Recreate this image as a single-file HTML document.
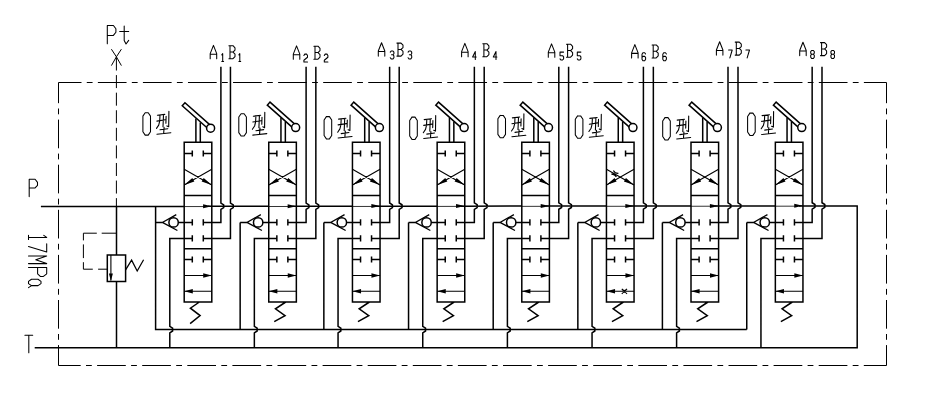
<!DOCTYPE html>
<html><head><meta charset="utf-8"><title>Hydraulic schematic</title>
<style>
html,body{margin:0;padding:0;background:#fff;font-family:"Liberation Sans",sans-serif;}
svg{display:block}
.m{stroke:#000;stroke-width:1.5;fill:none;stroke-linecap:butt;stroke-linejoin:miter}
.w{fill:#fff}
.n{stroke:#000;stroke-width:1.25;fill:none}
.p{stroke:#000;stroke-width:0.8;fill:none}
.t{stroke:#000;stroke-width:1.1;fill:none}
.d{stroke:#000;stroke-width:1;fill:none}
.x{stroke:#000;stroke-width:1.05;fill:none;stroke-linejoin:round;stroke-linecap:round}
.y{stroke:#000;stroke-width:1.1;fill:none;stroke-linejoin:round;stroke-linecap:round}
</style></head><body>
<svg width="926" height="402" viewBox="0 0 926 402">
<rect width="926" height="402" fill="#fff"/>
<path class="m" d="M857.2 205.9 L857.2 347.85 L34.7 347.85M40.9 206.4 L184.2 206.31M207.8 206.3 L211.8 206.3M211.8 206.3 L268.75 206.26M292.35 206.24 L296.35 206.24M296.35 206.24 L352.45 206.21M376.05 206.19 L380.05 206.19M380.05 206.19 L437.15 206.16M460.75 206.14 L464.75 206.14M464.75 206.14 L521.8 206.11M545.4 206.09 L549.4 206.09M549.4 206.09 L606.45 206.05M630.05 206.04 L634.05 206.04M634.05 206.04 L691 206M714.6 205.98 L718.6 205.98M718.6 205.98 L775.35 205.95M798.95 205.93 L802.95 205.93M802.95 205.93 L857.9 205.9M116.5 206.35 L116.5 254.9M116.5 281.4 L116.5 347.85M155.6 206.33 L155.6 329.6 L746.75 329.6M184.2 142.3H211.8V302H184.2ZM184.2 195.6 L211.8 195.6M184.2 248.8 L211.8 248.8M195.9 118.4 L195.9 142.3M200.3 122.4 L200.3 142.3M184.2 153.4 L192.3 153.4M192.3 150.4 L192.3 156.4M203.3 153.4 L211.8 153.4M203.3 150.4 L203.3 156.4M184.2 259.4 L192.3 259.4M192.3 256.4 L192.3 262.4M203.3 259.4 L211.8 259.4M203.3 256.4 L203.3 262.4M155.6 222.4 L162.4 222.4M178.2 222.4 L192.3 222.4M192.3 219.3 L192.3 225.5M203.3 219.3 L203.3 225.5M220.9 66.7 L220.9 203.09 L223.7 204.89 L223.7 207.69 L220.9 209.49 L220.9 222.4 L203.3 222.4M192.3 235.3 L192.3 241.5M203.3 235.3 L203.3 241.5M230.45 66.7 L230.45 203.08 L233.25 204.88 L233.25 207.68 L230.45 209.48 L230.45 238.4 L203.3 238.4M192.3 238.4 L169.8 238.4 L169.8 326.4 L172.6 328.2 L172.6 331 L169.8 332.8 L169.8 347.85M199.4 302 L190.4 308.2 L200.1 315.6 L190.1 323.6M268.75 142.3H296.35V302H268.75ZM268.75 195.6 L296.35 195.6M268.75 248.8 L296.35 248.8M280.95 117.8 L280.95 142.3M285.35 121.8 L285.35 142.3M268.75 153.4 L276.85 153.4M276.85 150.4 L276.85 156.4M287.85 153.4 L296.35 153.4M287.85 150.4 L287.85 156.4M268.75 259.4 L276.85 259.4M276.85 256.4 L276.85 262.4M287.85 259.4 L296.35 259.4M287.85 256.4 L287.85 262.4M240.15 329.6 L240.15 222.4M240.15 222.4 L246.95 222.4M262.75 222.4 L276.85 222.4M276.85 219.3 L276.85 225.5M287.85 219.3 L287.85 225.5M306.1 66.7 L306.1 203.04 L308.9 204.84 L308.9 207.64 L306.1 209.44 L306.1 222.4 L287.85 222.4M276.85 235.3 L276.85 241.5M287.85 235.3 L287.85 241.5M315.85 66.7 L315.85 203.03 L318.65 204.83 L318.65 207.63 L315.85 209.43 L315.85 238.4 L287.85 238.4M276.85 238.4 L254.35 238.4 L254.35 326.4 L257.15 328.2 L257.15 331 L254.35 332.8 L254.35 347.85M285.75 302 L275.45 308.8 L285.05 315.7 L274.25 321.6M352.45 142.3H380.05V302H352.45ZM352.45 195.6 L380.05 195.6M352.45 248.8 L380.05 248.8M364.7 117.8 L364.7 142.3M369.1 121.8 L369.1 142.3M352.45 153.4 L360.55 153.4M360.55 150.4 L360.55 156.4M371.55 153.4 L380.05 153.4M371.55 150.4 L371.55 156.4M352.45 259.4 L360.55 259.4M360.55 256.4 L360.55 262.4M371.55 259.4 L380.05 259.4M371.55 256.4 L371.55 262.4M323.85 329.6 L323.85 222.4M323.85 222.4 L330.65 222.4M346.45 222.4 L360.55 222.4M360.55 219.3 L360.55 225.5M371.55 219.3 L371.55 225.5M389.65 66.7 L389.65 202.99 L392.45 204.79 L392.45 207.59 L389.65 209.39 L389.65 222.4 L371.55 222.4M360.55 235.3 L360.55 241.5M371.55 235.3 L371.55 241.5M399.2 66.7 L399.2 202.98 L402 204.78 L402 207.58 L399.2 209.38 L399.2 238.4 L371.55 238.4M360.55 238.4 L338.05 238.4 L338.05 326.4 L340.85 328.2 L340.85 331 L338.05 332.8 L338.05 347.85M369.45 302 L359.15 308.8 L368.75 315.7 L357.95 321.6M437.15 142.3H464.75V302H437.15ZM437.15 195.6 L464.75 195.6M437.15 248.8 L464.75 248.8M449.45 117.8 L449.45 142.3M453.85 121.8 L453.85 142.3M437.15 153.4 L445.25 153.4M445.25 150.4 L445.25 156.4M456.25 153.4 L464.75 153.4M456.25 150.4 L456.25 156.4M437.15 259.4 L445.25 259.4M445.25 256.4 L445.25 262.4M456.25 259.4 L464.75 259.4M456.25 256.4 L456.25 262.4M408.55 329.6 L408.55 222.4M408.55 222.4 L415.35 222.4M431.15 222.4 L445.25 222.4M445.25 219.3 L445.25 225.5M456.25 219.3 L456.25 225.5M474.35 66.7 L474.35 202.93 L477.15 204.73 L477.15 207.53 L474.35 209.33 L474.35 222.4 L456.25 222.4M445.25 235.3 L445.25 241.5M456.25 235.3 L456.25 241.5M484.2 66.7 L484.2 202.93 L487 204.73 L487 207.53 L484.2 209.33 L484.2 238.4 L456.25 238.4M445.25 238.4 L422.75 238.4 L422.75 326.4 L425.55 328.2 L425.55 331 L422.75 332.8 L422.75 347.85M454.15 302 L443.85 308.8 L453.45 315.7 L442.65 321.6M521.8 142.3H549.4V302H521.8ZM521.8 195.6 L549.4 195.6M521.8 248.8 L549.4 248.8M533.8 117.8 L533.8 142.3M538.2 121.8 L538.2 142.3M521.8 153.4 L529.9 153.4M529.9 150.4 L529.9 156.4M540.9 153.4 L549.4 153.4M540.9 150.4 L540.9 156.4M521.8 259.4 L529.9 259.4M529.9 256.4 L529.9 262.4M540.9 259.4 L549.4 259.4M540.9 256.4 L540.9 262.4M493.2 329.6 L493.2 222.4M493.2 222.4 L500 222.4M515.8 222.4 L529.9 222.4M529.9 219.3 L529.9 225.5M540.9 219.3 L540.9 225.5M558.8 66.7 L558.8 202.88 L561.6 204.68 L561.6 207.48 L558.8 209.28 L558.8 222.4 L540.9 222.4M529.9 235.3 L529.9 241.5M540.9 235.3 L540.9 241.5M568.6 66.7 L568.6 202.88 L571.4 204.68 L571.4 207.48 L568.6 209.28 L568.6 238.4 L540.9 238.4M529.9 238.4 L507.4 238.4 L507.4 326.4 L510.2 328.2 L510.2 331 L507.4 332.8 L507.4 347.85M538.8 302 L528.5 308.8 L538.1 315.7 L527.3 321.6M606.45 142.3H634.05V302H606.45ZM606.45 195.6 L634.05 195.6M606.45 248.8 L634.05 248.8M618.25 117.8 L618.25 142.3M622.65 121.8 L622.65 142.3M606.45 153.4 L614.55 153.4M614.55 150.4 L614.55 156.4M625.55 153.4 L634.05 153.4M625.55 150.4 L625.55 156.4M606.45 259.4 L614.55 259.4M614.55 256.4 L614.55 262.4M625.55 259.4 L634.05 259.4M625.55 256.4 L625.55 262.4M577.85 329.6 L577.85 222.4M577.85 222.4 L584.65 222.4M600.45 222.4 L614.55 222.4M614.55 219.3 L614.55 225.5M625.55 219.3 L625.55 225.5M643.4 66.7 L643.4 202.83 L646.2 204.63 L646.2 207.43 L643.4 209.23 L643.4 222.4 L625.55 222.4M614.55 235.3 L614.55 241.5M625.55 235.3 L625.55 241.5M653.35 66.7 L653.35 202.82 L656.15 204.62 L656.15 207.42 L653.35 209.22 L653.35 238.4 L625.55 238.4M614.55 238.4 L592.05 238.4 L592.05 326.4 L594.85 328.2 L594.85 331 L592.05 332.8 L592.05 347.85M623.45 302 L613.15 308.8 L622.75 315.7 L611.95 321.6M691 142.3H718.6V302H691ZM691 195.6 L718.6 195.6M691 248.8 L718.6 248.8M702.7 117.8 L702.7 142.3M707.1 121.8 L707.1 142.3M691 153.4 L699.1 153.4M699.1 150.4 L699.1 156.4M710.1 153.4 L718.6 153.4M710.1 150.4 L710.1 156.4M691 259.4 L699.1 259.4M699.1 256.4 L699.1 262.4M710.1 259.4 L718.6 259.4M710.1 256.4 L710.1 262.4M662.4 329.6 L662.4 222.4M662.4 222.4 L669.2 222.4M685 222.4 L699.1 222.4M699.1 219.3 L699.1 225.5M710.1 219.3 L710.1 225.5M728 66.7 L728 202.78 L730.8 204.58 L730.8 207.38 L728 209.18 L728 222.4 L710.1 222.4M699.1 235.3 L699.1 241.5M710.1 235.3 L710.1 241.5M738 66.7 L738 202.77 L740.8 204.57 L740.8 207.37 L738 209.17 L738 238.4 L710.1 238.4M699.1 238.4 L676.6 238.4 L676.6 326.4 L679.4 328.2 L679.4 331 L676.6 332.8 L676.6 347.85M708 302 L697.7 308.8 L707.3 315.7 L696.5 321.6M775.35 142.3H802.95V302H775.35ZM775.35 195.6 L802.95 195.6M775.35 248.8 L802.95 248.8M787.05 117.8 L787.05 142.3M791.45 121.8 L791.45 142.3M775.35 153.4 L783.45 153.4M783.45 150.4 L783.45 156.4M794.45 153.4 L802.95 153.4M794.45 150.4 L794.45 156.4M775.35 259.4 L783.45 259.4M783.45 256.4 L783.45 262.4M794.45 259.4 L802.95 259.4M794.45 256.4 L794.45 262.4M746.75 329.6 L746.75 222.4M746.75 222.4 L753.55 222.4M769.35 222.4 L783.45 222.4M783.45 219.3 L783.45 225.5M794.45 219.3 L794.45 225.5M812.15 66.7 L812.15 202.73 L814.95 204.53 L814.95 207.33 L812.15 209.13 L812.15 222.4 L794.45 222.4M783.45 235.3 L783.45 241.5M794.45 235.3 L794.45 241.5M822 66.7 L822 202.72 L824.8 204.52 L824.8 207.32 L822 209.12 L822 238.4 L794.45 238.4M783.45 238.4 L760.95 238.4 L760.95 347.85M792.35 302 L782.05 308.8 L791.65 315.7 L780.85 321.6M107.3 254.9H125.6V281.4H107.3Z"/>
<path class="t" d="M184.2 169.2 L211.8 184.9M211.8 169.2 L184.2 184.9M184.2 275.5 L211.8 275.5M184.2 291.3 L211.8 291.3M268.75 169.2 L296.35 184.9M296.35 169.2 L268.75 184.9M268.75 275.5 L296.35 275.5M268.75 291.3 L296.35 291.3M352.45 169.2 L380.05 184.9M380.05 169.2 L352.45 184.9M352.45 275.5 L380.05 275.5M352.45 291.3 L380.05 291.3M437.15 169.2 L464.75 184.9M464.75 169.2 L437.15 184.9M437.15 275.5 L464.75 275.5M437.15 291.3 L464.75 291.3M521.8 169.2 L549.4 184.9M549.4 169.2 L521.8 184.9M521.8 275.5 L549.4 275.5M521.8 291.3 L549.4 291.3M606.45 169.2 L634.05 184.9M634.05 169.2 L606.45 184.9M606.45 275.5 L634.05 275.5M606.45 291.3 L634.05 291.3M691 169.2 L718.6 184.9M718.6 169.2 L691 184.9M691 275.5 L718.6 275.5M691 291.3 L718.6 291.3M775.35 169.2 L802.95 184.9M802.95 169.2 L775.35 184.9M775.35 275.5 L802.95 275.5M775.35 291.3 L802.95 291.3M611.34 174.09Q614.8 173.87 616.38 176.96M613.42 170.44Q615 173.53 618.46 173.31M621.8 288.8Q624.4 292.2 627 288.8M621.8 293.9Q624.4 290.5 627 293.9M110.9 254.9 L110.9 280.6"/>
<path class="n" d="M176.3 214.6 L162.4 222.4 L177.4 230.5M260.85 214.6 L246.95 222.4 L261.95 230.5M344.55 214.6 L330.65 222.4 L345.65 230.5M429.25 214.6 L415.35 222.4 L430.35 230.5M513.9 214.6 L500 222.4 L515 230.5M598.55 214.6 L584.65 222.4 L599.65 230.5M683.1 214.6 L669.2 222.4 L684.2 230.5M767.45 214.6 L753.55 222.4 L768.55 230.5M125.6 269.8 L131.6 260.1 L137.2 271 L143.6 259.8"/>
<path class="p" d="M184.2 206.56 L204.8 206.55M268.75 206.51 L289.35 206.49M352.45 206.46 L373.05 206.44M437.15 206.41 L457.75 206.39M521.8 206.36 L542.4 206.34M606.45 206.3 L627.05 206.29M691 206.25 L711.6 206.23M775.35 206.2 L795.95 206.18"/>
<path fill="#000" d="M184.2 184.9 L192.29 177.88 L194.37 181.53ZM211.8 184.9 L201.63 181.53 L203.71 177.88ZM211.8 206.2 L203.1 208.2 L203.1 204.2ZM211.8 275.5 L203.2 277.8 L203.2 273.2ZM184.2 291.3 L192.8 289 L192.8 293.6ZM268.75 184.9 L276.84 177.88 L278.92 181.53ZM296.35 184.9 L286.18 181.53 L288.26 177.88ZM296.35 206.14 L287.65 208.14 L287.65 204.14ZM296.35 275.5 L287.75 277.8 L287.75 273.2ZM268.75 291.3 L277.35 289 L277.35 293.6ZM352.45 184.9 L360.54 177.88 L362.62 181.53ZM380.05 184.9 L369.88 181.53 L371.96 177.88ZM380.05 206.09 L371.35 208.09 L371.35 204.09ZM380.05 275.5 L371.45 277.8 L371.45 273.2ZM352.45 291.3 L361.05 289 L361.05 293.6ZM437.15 184.9 L445.24 177.88 L447.32 181.53ZM464.75 184.9 L454.58 181.53 L456.66 177.88ZM464.75 206.04 L456.05 208.04 L456.05 204.04ZM464.75 275.5 L456.15 277.8 L456.15 273.2ZM437.15 291.3 L445.75 289 L445.75 293.6ZM521.8 184.9 L529.89 177.88 L531.97 181.53ZM549.4 184.9 L539.23 181.53 L541.31 177.88ZM549.4 205.99 L540.7 207.99 L540.7 203.99ZM549.4 275.5 L540.8 277.8 L540.8 273.2ZM521.8 291.3 L530.4 289 L530.4 293.6ZM606.45 184.9 L614.54 177.88 L616.62 181.53ZM634.05 184.9 L623.88 181.53 L625.96 177.88ZM634.05 205.94 L625.35 207.94 L625.35 203.94ZM634.05 275.5 L625.45 277.8 L625.45 273.2ZM606.45 291.3 L615.05 289 L615.05 293.6ZM691 184.9 L699.09 177.88 L701.17 181.53ZM718.6 184.9 L708.43 181.53 L710.51 177.88ZM718.6 205.88 L709.9 207.88 L709.9 203.88ZM718.6 275.5 L710 277.8 L710 273.2ZM691 291.3 L699.6 289 L699.6 293.6ZM775.35 184.9 L783.44 177.88 L785.52 181.53ZM802.95 184.9 L792.78 181.53 L794.86 177.88ZM802.95 205.83 L794.25 207.83 L794.25 203.83ZM802.95 275.5 L794.35 277.8 L794.35 273.2ZM775.35 291.3 L783.95 289 L783.95 293.6ZM110.9 281 L108.9 273.4 L112.9 273.4Z"/>
<path class="m w" d="M182.24 105.78 L184.96 102.72 L211.96 126.67 L209.24 129.73 Z"/>
<circle class="m w" cx="210.6" cy="128.2" r="4"/>
<circle class="m" fill="none" cx="173.6" cy="222.4" r="4.7"/>
<path class="m w" d="M267.29 105.18 L270.01 102.12 L297.01 126.07 L294.29 129.13 Z"/>
<circle class="m w" cx="295.65" cy="127.6" r="4"/>
<circle class="m" fill="none" cx="258.15" cy="222.4" r="4.7"/>
<path class="m w" d="M351.04 105.18 L353.76 102.12 L380.76 126.07 L378.04 129.13 Z"/>
<circle class="m w" cx="379.4" cy="127.6" r="4"/>
<circle class="m" fill="none" cx="341.85" cy="222.4" r="4.7"/>
<path class="m w" d="M435.79 105.18 L438.51 102.12 L465.51 126.07 L462.79 129.13 Z"/>
<circle class="m w" cx="464.15" cy="127.6" r="4"/>
<circle class="m" fill="none" cx="426.55" cy="222.4" r="4.7"/>
<path class="m w" d="M520.14 105.18 L522.86 102.12 L549.86 126.07 L547.14 129.13 Z"/>
<circle class="m w" cx="548.5" cy="127.6" r="4"/>
<circle class="m" fill="none" cx="511.2" cy="222.4" r="4.7"/>
<path class="m w" d="M604.59 105.18 L607.31 102.12 L634.31 126.07 L631.59 129.13 Z"/>
<circle class="m w" cx="632.95" cy="127.6" r="4"/>
<circle class="m" fill="none" cx="595.85" cy="222.4" r="4.7"/>
<path class="m w" d="M689.04 105.18 L691.76 102.12 L718.76 126.07 L716.04 129.13 Z"/>
<circle class="m w" cx="717.4" cy="127.6" r="4"/>
<circle class="m" fill="none" cx="680.4" cy="222.4" r="4.7"/>
<path class="m w" d="M773.39 105.18 L776.11 102.12 L803.11 126.07 L800.39 129.13 Z"/>
<circle class="m w" cx="801.75" cy="127.6" r="4"/>
<circle class="m" fill="none" cx="764.75" cy="222.4" r="4.7"/>
<path class="d" stroke-dasharray="28.7 5.28 5.8 5.28" stroke-dashoffset="5.7" d="M58.5 82.5H886.5"/><path class="d" stroke-dasharray="28.7 5.3 5.8 5.3" stroke-dashoffset="8" d="M58.5 82.5V365.5"/><path class="d" stroke-dasharray="28.7 5.3 5.8 5.3" stroke-dashoffset="6.5" d="M58.5 365.5H886.5"/><path class="d" stroke-dasharray="28.7 5.3 5.8 5.3" stroke-dashoffset="8" d="M886.5 82.5V365.5"/><path class="d" stroke-dasharray="13 4.58" d="M116.4 57.5V206.3"/><path class="d" d="M111.4 49.2L116.4 56.8L121.4 49.2M111.4 65.6L116.4 56.8L121.4 65.6"/><path class="d" d="M116.5 233.2H101.7M96.8 233.2H83.4V240.4M83.4 244.4V258.1M83.4 262.2V269.2H92.8M98.1 269.2H107.3"/>
<path class="x" d="M29.2 196.6 L29.2 179.2 L35.09 179.2 L37.5 182.33 L37.5 185.29 L35.09 187.9 L29.2 187.9M24.9 335.3 L32.7 335.3M28.8 335.3 L28.8 352.8M107.3 43.7 L107.3 25.5 L113.41 25.5 L115.9 28.78 L115.9 32.23 L113.41 35.42 L107.3 35.42M124.2 26 L124.2 40.4 L126 44 L128.7 40.4M119.7 31.4 L128.7 31.4M43.79 235.35 L46.7 237.4 L28.5 237.4M28.5 235.35 L28.5 239.45M46.7 243.7 L46.7 252 L28.5 246.6M28.5 255.9 L46.7 255.9 L35.78 259.75 L46.7 263.6 L28.5 263.6M28.5 267.4 L46.7 267.4 L46.7 273.79 L43.42 276.4 L40.33 276.4 L37.6 273.79 L37.6 267.4M31.5 279.3H38L41 281.4V283.6L38 285.6H31.5L28.5 283.6V281.4ZM31.6 285.6L28.5 287.6"/>
<path class="x" d="M210.2 58.7 L210.2 53.65 L213.45 45.4 L216.7 53.65 L216.7 58.7M210.2 54.18 L216.7 54.18M221.8 54.86 L222.7 53.6 L222.7 61.5M221.8 61.5 L223.6 61.5M228.9 45.7 L233 45.7 L235 47.78 L235 50.12 L233 52.07 L230 52.07M230 45.7 L230 58.7M233 52.07 L235 54.02 L235 56.62 L233 58.7 L228.9 58.7M238.9 54.86 L239.8 53.6 L239.8 61.5M238.9 61.5 L240.7 61.5M293.3 59.2 L293.3 54.15 L296.55 45.9 L299.8 54.15 L299.8 59.2M293.3 54.68 L299.8 54.68M303.9 55.52 L304.8 54.1 L306.6 54.1 L307.5 55.52 L307.5 57.26 L303.9 60.26 L303.9 62 L307.5 62M313.9 46.2 L318 46.2 L320 48.28 L320 50.62 L318 52.57 L315 52.57M315 46.2 L315 59.2M318 52.57 L320 54.52 L320 57.12 L318 59.2 L313.9 59.2M324.3 55.52 L325.2 54.1 L327 54.1 L327.9 55.52 L327.9 57.26 L324.3 60.26 L324.3 62 L327.9 62M378.3 56.1 L378.3 51.05 L381.55 42.8 L384.8 51.05 L384.8 56.1M378.3 51.58 L384.8 51.58M390.3 52.19 L391.2 51 L393 51 L393.9 52.19 L393.9 53.77 L393 54.79 L391.56 54.79M393 54.79 L393.9 55.9 L393.9 57.72 L393 58.9 L391.2 58.9 L390.3 57.72M396.9 43.1 L401 43.1 L403 45.18 L403 47.52 L401 49.47 L398 49.47M398 43.1 L398 56.1M401 49.47 L403 51.42 L403 54.02 L401 56.1 L396.9 56.1M408.1 52.19 L409 51 L410.8 51 L411.7 52.19 L411.7 53.77 L410.8 54.79 L409.36 54.79M410.8 54.79 L411.7 55.9 L411.7 57.72 L410.8 58.9 L409 58.9 L408.1 57.72M461.6 56.7 L461.6 51.65 L464.85 43.4 L468.1 51.65 L468.1 56.7M461.6 52.18 L468.1 52.18M475.3 59.5 L475.3 51.6 L472.6 56.97 L476.2 56.97M482.8 43.7 L486.9 43.7 L488.9 45.78 L488.9 48.12 L486.9 50.07 L483.9 50.07M483.9 43.7 L483.9 56.7M486.9 50.07 L488.9 52.02 L488.9 54.62 L486.9 56.7 L482.8 56.7M496 59.5 L496 51.6 L493.3 56.97 L496.9 56.97M548.3 57.2 L548.3 52.15 L551.55 43.9 L554.8 52.15 L554.8 57.2M548.3 52.68 L554.8 52.68M563.6 52.1 L560 52.1 L560 55.65 L562.59 55.65 L563.6 56.84 L563.6 58.81 L562.59 60 L560.9 60 L560 58.81M566.5 44.2 L570.6 44.2 L572.6 46.28 L572.6 48.62 L570.6 50.57 L567.6 50.57M567.6 44.2 L567.6 57.2M570.6 50.57 L572.6 52.52 L572.6 55.12 L570.6 57.2 L566.5 57.2M580.9 52.1 L577.3 52.1 L577.3 55.65 L579.89 55.65 L580.9 56.84 L580.9 58.81 L579.89 60 L578.2 60 L577.3 58.81M631.6 57.9 L631.6 52.85 L634.85 44.6 L638.1 52.85 L638.1 57.9M631.6 53.38 L638.1 53.38M645.6 53.98 L644.7 52.8 L642.9 52.8 L642 54.22 L642 59.28 L642.9 60.7 L644.7 60.7 L645.6 59.28 L645.6 57.54 L644.7 56.35 L642.9 56.35 L642 57.54M652.1 44.9 L656.2 44.9 L658.2 46.98 L658.2 49.32 L656.2 51.27 L653.2 51.27M653.2 44.9 L653.2 57.9M656.2 51.27 L658.2 53.22 L658.2 55.82 L656.2 57.9 L652.1 57.9M666.4 53.98 L665.5 52.8 L663.7 52.8 L662.8 54.22 L662.8 59.28 L663.7 60.7 L665.5 60.7 L666.4 59.28 L666.4 57.54 L665.5 56.35 L663.7 56.35 L662.8 57.54M716.4 55.1 L716.4 50.05 L719.65 41.8 L722.9 50.05 L722.9 55.1M716.4 50.58 L722.9 50.58M728.6 50 L732.2 50 L729.86 57.9M735.2 42.1 L739.3 42.1 L741.3 44.18 L741.3 46.52 L739.3 48.47 L736.3 48.47M736.3 42.1 L736.3 55.1M739.3 48.47 L741.3 50.42 L741.3 53.02 L739.3 55.1 L735.2 55.1M745.9 50 L749.5 50 L747.16 57.9M799.7 55.6 L799.7 50.55 L802.95 42.3 L806.2 50.55 L806.2 55.6M799.7 51.08 L806.2 51.08M811.6 50.5 L813.4 50.5 L814.3 51.69 L814.3 53.11 L813.4 54.21 L811.6 54.21 L810.7 53.11 L810.7 51.69 L811.6 50.5M811.6 54.21 L810.7 55.4 L810.7 57.22 L811.6 58.4 L813.4 58.4 L814.3 57.22 L814.3 55.4 L813.4 54.21M820.5 42.6 L824.6 42.6 L826.6 44.68 L826.6 47.02 L824.6 48.97 L821.6 48.97M821.6 42.6 L821.6 55.6M824.6 48.97 L826.6 50.92 L826.6 53.52 L824.6 55.6 L820.5 55.6M831.8 50.5 L833.6 50.5 L834.5 51.69 L834.5 53.11 L833.6 54.21 L831.8 54.21 L830.9 53.11 L830.9 51.69 L831.8 50.5M831.8 54.21 L830.9 55.4 L830.9 57.22 L831.8 58.4 L833.6 58.4 L834.5 57.22 L834.5 55.4 L833.6 54.21"/>
<path class="x" d="M145.18 112.8 L148.22 112.8 L150.5 116.14 L150.5 131.75 L148.22 135.1 L145.18 135.1 L142.9 131.75 L142.9 116.14 L145.18 112.8M241.08 113.7 L244.12 113.7 L246.4 117.05 L246.4 132.66 L244.12 136 L241.08 136 L238.8 132.66 L238.8 117.05 L241.08 113.7M326.38 116.6 L329.42 116.6 L331.7 119.95 L331.7 135.56 L329.42 138.9 L326.38 138.9 L324.1 135.56 L324.1 119.95 L326.38 116.6M411.98 117.1 L415.02 117.1 L417.3 120.45 L417.3 136.06 L415.02 139.4 L411.98 139.4 L409.7 136.06 L409.7 120.45 L411.98 117.1M500.18 115.4 L503.22 115.4 L505.5 118.75 L505.5 134.36 L503.22 137.7 L500.18 137.7 L497.9 134.36 L497.9 118.75 L500.18 115.4M577.58 115.9 L580.62 115.9 L582.9 119.25 L582.9 134.86 L580.62 138.2 L577.58 138.2 L575.3 134.86 L575.3 119.25 L577.58 115.9M664.98 117.6 L668.02 117.6 L670.3 120.95 L670.3 136.56 L668.02 139.9 L664.98 139.9 L662.7 136.56 L662.7 120.95 L664.98 117.6M749.88 113.1 L752.92 113.1 L755.2 116.45 L755.2 132.06 L752.92 135.4 L749.88 135.4 L747.6 132.06 L747.6 116.45 L749.88 113.1"/>
<path class="y" d="M157.4 115.3 L164.8 114.4M156.9 121.1 L165.2 119.8M160 115 L159.7 121.1 L158.7 125.1 L156.5 128.4M163.5 114.8 L163 126.8M166.1 116.3 L165.9 123.3M168.9 111.3 L168.7 126.8 L166.9 125.9M160 129.8 L167.8 128.7M164.1 127.2 L163.7 132.9M156.9 134.2 L170.9 132.7M253.3 116.2 L260.7 115.3M252.8 122 L261.1 120.7M255.9 115.9 L255.6 122 L254.6 126 L252.4 129.3M259.4 115.7 L258.9 127.7M262 117.2 L261.8 124.2M264.8 112.2 L264.6 127.7 L262.8 126.8M255.9 130.7 L263.7 129.6M260 128.1 L259.6 133.8M252.8 135.1 L266.8 133.6M338.6 119.1 L346 118.2M338.1 124.9 L346.4 123.6M341.2 118.8 L340.9 124.9 L339.9 128.9 L337.7 132.2M344.7 118.6 L344.2 130.6M347.3 120.1 L347.1 127.1M350.1 115.1 L349.9 130.6 L348.1 129.7M341.2 133.6 L349 132.5M345.3 131 L344.9 136.7M338.1 138 L352.1 136.5M424.2 119.6 L431.6 118.7M423.7 125.4 L432 124.1M426.8 119.3 L426.5 125.4 L425.5 129.4 L423.3 132.7M430.3 119.1 L429.8 131.1M432.9 120.6 L432.7 127.6M435.7 115.6 L435.5 131.1 L433.7 130.2M426.8 134.1 L434.6 133M430.9 131.5 L430.5 137.2M423.7 138.5 L437.7 137M512.4 117.9 L519.8 117M511.9 123.7 L520.2 122.4M515 117.6 L514.7 123.7 L513.7 127.7 L511.5 131M518.5 117.4 L518 129.4M521.1 118.9 L520.9 125.9M523.9 113.9 L523.7 129.4 L521.9 128.5M515 132.4 L522.8 131.3M519.1 129.8 L518.7 135.5M511.9 136.8 L525.9 135.3M589.8 118.4 L597.2 117.5M589.3 124.2 L597.6 122.9M592.4 118.1 L592.1 124.2 L591.1 128.2 L588.9 131.5M595.9 117.9 L595.4 129.9M598.5 119.4 L598.3 126.4M601.3 114.4 L601.1 129.9 L599.3 129M592.4 132.9 L600.2 131.8M596.5 130.3 L596.1 136M589.3 137.3 L603.3 135.8M677.2 120.1 L684.6 119.2M676.7 125.9 L685 124.6M679.8 119.8 L679.5 125.9 L678.5 129.9 L676.3 133.2M683.3 119.6 L682.8 131.6M685.9 121.1 L685.7 128.1M688.7 116.1 L688.5 131.6 L686.7 130.7M679.8 134.6 L687.6 133.5M683.9 132 L683.5 137.7M676.7 139 L690.7 137.5M762.1 115.6 L769.5 114.7M761.6 121.4 L769.9 120.1M764.7 115.3 L764.4 121.4 L763.4 125.4 L761.2 128.7M768.2 115.1 L767.7 127.1M770.8 116.6 L770.6 123.6M773.6 111.6 L773.4 127.1 L771.6 126.2M764.7 130.1 L772.5 129M768.8 127.5 L768.4 133.2M761.6 134.5 L775.6 133"/>
</svg>
</body></html>
